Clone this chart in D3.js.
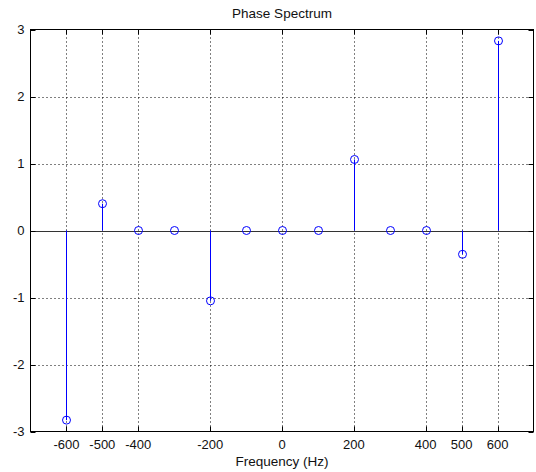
<!doctype html>
<html>
<head>
<meta charset="UTF-8">
<title>Phase Spectrum</title>
<script src="https://d3js.org/d3.v7.min.js"></script>
<style>
  body { margin: 0; background: #fff; }
  text { font-family: "Liberation Sans", Arial, sans-serif; font-size: 13px; fill: #111; }
</style>
</head>
<body>
<script>
// stem data: frequency (Hz) and phase (rad)
var freqs = [-600, -500, -400, -300, -200, -100, 0, 100, 200, 300, 400, 500, 600];
var phase = [-2.83, 0.40, 0, 0, -1.05, 0, 0, 0, 1.06, 0, 0, -0.355, 2.83];
var xTicks = [-600, -500, -400, -200, 0, 200, 400, 500, 600];
var yTicks = [-3, -2, -1, 0, 1, 2, 3];

var W = 536, H = 472;
var pLeft = 30.5, pRight = 533.5, pTop = 29.5, pBottom = 431.5;

var svg = d3.select("body").append("svg")
  .attr("width", W)
  .attr("height", H);

var x = d3.scaleLinear().domain([-700, 700]).range([pLeft, pRight]);
var y = d3.scaleLinear().domain([-3, 3]).range([pBottom, pTop]);

function px(d){ return Math.round(x(d)) + 0.5; }
function py(d){ return Math.round(y(d)) + 0.5; }

// grid
svg.selectAll("line.gx").data(xTicks).enter().append("line")
  .attr("x1", px).attr("x2", px)
  .attr("y1", pTop).attr("y2", pBottom)
  .attr("stroke", "#000").attr("stroke-width", 1)
  .attr("stroke-dasharray", "1,3");
svg.selectAll("line.gy").data(yTicks.slice(1, -1)).enter().append("line")
  .attr("x1", pLeft).attr("x2", pRight)
  .attr("y1", py).attr("y2", py)
  .attr("stroke", "#000").attr("stroke-width", 1)
  .attr("stroke-dasharray", "1,3");

// baseline
svg.append("line")
  .attr("x1", pLeft).attr("x2", pRight)
  .attr("y1", py(0)).attr("y2", py(0))
  .attr("stroke", "#333").attr("stroke-width", 1);

// axes box
svg.append("rect")
  .attr("x", pLeft).attr("y", pTop)
  .attr("width", pRight - pLeft).attr("height", pBottom - pTop)
  .attr("fill", "none").attr("stroke", "#000");

// ticks inside, all four sides
var tl = 5;
xTicks.forEach(function(d){
  svg.append("line").attr("x1", px(d)).attr("x2", px(d)).attr("y1", pBottom).attr("y2", pBottom - tl).attr("stroke", "#000");
  svg.append("line").attr("x1", px(d)).attr("x2", px(d)).attr("y1", pTop).attr("y2", pTop + tl).attr("stroke", "#000");
});
yTicks.forEach(function(d){
  svg.append("line").attr("x1", pLeft).attr("x2", pLeft + tl).attr("y1", py(d)).attr("y2", py(d)).attr("stroke", "#000");
  svg.append("line").attr("x1", pRight).attr("x2", pRight - tl).attr("y1", py(d)).attr("y2", py(d)).attr("stroke", "#000");
});

// tick labels
svg.selectAll("text.xt").data(xTicks).enter().append("text")
  .attr("x", function(d){ return x(d); })
  .attr("y", pBottom + 17.5)
  .attr("text-anchor", "middle")
  .text(function(d){ return d; });
svg.selectAll("text.yt").data(yTicks).enter().append("text")
  .attr("x", pLeft - 6)
  .attr("y", function(d){ return y(d) + 4.5; })
  .attr("text-anchor", "end")
  .text(function(d){ return d; });

// stems
svg.selectAll("line.stem").data(freqs).enter().append("line")
  .attr("x1", px).attr("x2", px)
  .attr("y1", y(0))
  .attr("y2", function(d, i){ return y(phase[i]); })
  .attr("stroke", "#0000ff").attr("stroke-width", 1);

svg.selectAll("circle").data(freqs).enter().append("circle")
  .attr("cx", px)
  .attr("cy", function(d, i){ return y(phase[i]); })
  .attr("r", 4)
  .attr("fill", "none")
  .attr("stroke", "#0000ff").attr("stroke-width", 1);

// title and label
svg.append("text")
  .attr("x", (pLeft + pRight) / 2).attr("y", 18)
  .attr("text-anchor", "middle")
  .style("font-size", "13.5px")
  .text("Phase Spectrum");
svg.append("text")
  .attr("x", (pLeft + pRight) / 2).attr("y", 466)
  .attr("text-anchor", "middle")
  .style("font-size", "13.5px")
  .text("Frequency (Hz)");
</script>
</body>
</html>
